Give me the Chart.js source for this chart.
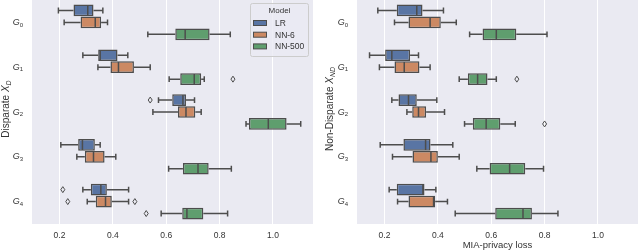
<!DOCTYPE html>
<html>
<head>
<meta charset="utf-8">
<script src="https://cdn.jsdelivr.net/npm/chart.js@4.4.1/dist/chart.umd.min.js"></script>
<style>
  html, body { margin: 0; padding: 0; background: #fff; }
  .panel { position: absolute; top: 0; width: 320px; height: 252px; }
  #left { left: 0; }
  #right { left: 320px; }
</style>
</head>
<body>
<div class="panel" id="left"><canvas id="chartLeft"></canvas></div>
<div class="panel" id="right"><canvas id="chartRight"></canvas></div>
<script>
var groups = ["0", "1", "2", "3", "4"];
var models = ["LR", "NN-6", "NN-500"];
var colors = ["#5975a4", "#cc8963", "#5f9e6e"];
var xTicks = [0.2, 0.4, 0.6, 0.8, 1.0];

// [whisker low, q1, median, q3, whisker high] per group
var dispLR = [
  [0.196, 0.2525, 0.306, 0.3275, 0.3625],
  [0.2875, 0.345, 0.3525, 0.4175, 0.456],
  [0.571, 0.6225, 0.6625, 0.674, 0.706],
  [0.205, 0.27, 0.286, 0.3325, 0.3525],
  [0.2875, 0.3175, 0.355, 0.3775, 0.459]
];
var dispNN6 = [
  [0.2175, 0.279, 0.334, 0.356, 0.38],
  [0.344, 0.391, 0.421, 0.479, 0.54],
  [0.55, 0.644, 0.674, 0.709, 0.731],
  [0.265, 0.295, 0.3275, 0.369, 0.411],
  [0.304, 0.336, 0.3725, 0.396, 0.459]
];
var dispNN500 = [
  [0.531, 0.634, 0.671, 0.7625, 0.84],
  [0.611, 0.6525, 0.705, 0.731, 0.7425],
  [0.899, 0.91, 0.9825, 1.051, 1.104],
  [0.609, 0.6625, 0.719, 0.759, 0.844],
  [0.581, 0.66, 0.6775, 0.739, 0.83]
];
var dispOutLR = [[], [], [0.54], [], [0.2125]];
var dispOutNN6 = [[], [], [], [], [0.231, 0.4825]];
var dispOutNN500 = [[], [0.85], [], [], [0.525]];

var nonLR = [
  [0.175, 0.246, 0.321, 0.3425, 0.421],
  [0.144, 0.2025, 0.2275, 0.296, 0.3275],
  [0.2275, 0.2525, 0.29, 0.321, 0.396],
  [0.184, 0.271, 0.354, 0.3725, 0.456],
  [0.2175, 0.246, 0.344, 0.35, 0.3925]
];
var nonNN6 = [
  [0.2375, 0.29, 0.371, 0.411, 0.469],
  [0.181, 0.2375, 0.274, 0.331, 0.371],
  [0.284, 0.304, 0.3275, 0.356, 0.425],
  [0.23, 0.305, 0.374, 0.4, 0.48],
  [0.249, 0.29, 0.384, 0.39, 0.436]
];
var nonNN500 = [
  [0.519, 0.5675, 0.619, 0.694, 0.809],
  [0.48, 0.5125, 0.549, 0.586, 0.619],
  [0.5, 0.531, 0.581, 0.634, 0.69],
  [0.546, 0.594, 0.669, 0.7275, 0.796],
  [0.465, 0.615, 0.719, 0.7525, 0.85]
];
var nonOutLR = [[], [], [], [], []];
var nonOutNN6 = [[], [], [], [], []];
var nonOutNN500 = [[], [0.696], [0.8], [], []];

var FONT = "'Liberation Sans', Arial, sans-serif";
var EDGE = "#4d4d4d";

var makeDataset = function(i, stats, outliers) {
  return {
    label: models[i],
    data: stats.map(function(s) { return [s[1], s[3]]; }),
    stats: stats,
    outliers: outliers,
    backgroundColor: colors[i],
    borderColor: EDGE,
    borderWidth: 1.5,
    borderSkipped: false,
    categoryPercentage: 0.8,
    barPercentage: 0.98
  };
};

// draws the text parts [text, italic, sub] one after another
var drawParts = function(ctx, parts, size, x, y) {
  var widths = parts.map(function(p) {
    ctx.font = (p[1] ? "italic " : "") + (p[2] ? size * 0.7 : size) + "px " + FONT;
    return ctx.measureText(p[0]).width;
  });
  var total = widths.reduce(function(a, b) { return a + b; }, 0);
  var cx = x - total / 2;
  parts.forEach(function(p, k) {
    ctx.font = (p[1] ? "italic " : "") + (p[2] ? size * 0.7 : size) + "px " + FONT;
    ctx.fillText(p[0], cx, y + (p[2] ? size * 0.3 : 0));
    cx += widths[k];
  });
};

var boxPlugin = {
  id: "boxes",
  beforeDraw: function(chart) {
    var a = chart.chartArea, ctx = chart.ctx;
    ctx.save();
    ctx.fillStyle = "#eaeaf2";
    ctx.fillRect(a.left, a.top, a.right - a.left, a.bottom - a.top);
    ctx.restore();
  },
  afterDatasetsDraw: function(chart) {
    var ctx = chart.ctx, xs = chart.scales.x, ys = chart.scales.y, a = chart.chartArea;
    var opts = chart.options.plugins.boxes;
    ctx.save();
    ctx.strokeStyle = EDGE;
    ctx.lineWidth = 1.5;
    chart.data.datasets.forEach(function(ds, di) {
      var meta = chart.getDatasetMeta(di);
      meta.data.forEach(function(bar, i) {
        var s = ds.stats[i];
        var p = bar.getProps(["y", "height"], true);
        var y = p.y, h = p.height;
        ctx.beginPath();
        ctx.moveTo(xs.getPixelForValue(s[0]), y);
        ctx.lineTo(xs.getPixelForValue(s[1]), y);
        ctx.moveTo(xs.getPixelForValue(s[3]), y);
        ctx.lineTo(xs.getPixelForValue(s[4]), y);
        [s[0], s[4]].forEach(function(v) {
          ctx.moveTo(xs.getPixelForValue(v), y - h / 4);
          ctx.lineTo(xs.getPixelForValue(v), y + h / 4);
        });
        ctx.moveTo(xs.getPixelForValue(s[2]), y - h / 2 + 0.75);
        ctx.lineTo(xs.getPixelForValue(s[2]), y + h / 2 - 0.75);
        ctx.stroke();
        ds.outliers[i].forEach(function(v) {
          var ox = xs.getPixelForValue(v);
          ctx.beginPath();
          ctx.moveTo(ox, y - 3);
          ctx.lineTo(ox + 2, y);
          ctx.lineTo(ox, y + 3);
          ctx.lineTo(ox - 2, y);
          ctx.closePath();
          ctx.lineWidth = 1;
          ctx.stroke();
          ctx.lineWidth = 1.5;
        });
      });
    });
    ctx.restore();

    // group labels G_i
    ctx.save();
    ctx.fillStyle = "#333";
    ctx.textBaseline = "middle";
    groups.forEach(function(g, i) {
      var ty = ys.getPixelForTick(i);
      var right = a.left - 9;
      ctx.font = "6px " + FONT;
      var sw = ctx.measureText(g).width;
      ctx.textAlign = "left";
      ctx.fillText(g, right - sw, ty + 2.5);
      ctx.font = "italic 9px " + FONT;
      ctx.textAlign = "right";
      ctx.fillText("G", right - sw, ty);
    });
    ctx.restore();

    // axis titles
    ctx.save();
    ctx.fillStyle = "#333";
    ctx.textBaseline = "middle";
    ctx.textAlign = "left";
    ctx.translate(opts.yTitleX, 109);
    ctx.rotate(-Math.PI / 2);
    drawParts(ctx, opts.yTitle, 10, 0, 0);
    ctx.restore();
    if (opts.xTitle) {
      ctx.save();
      ctx.fillStyle = "#333";
      ctx.textBaseline = "middle";
      ctx.textAlign = "center";
      ctx.font = "9.5px " + FONT;
      ctx.fillText(opts.xTitle, (a.left + a.right) / 2, 245);
      ctx.restore();
    }

    // legend
    if (opts.legend) {
      ctx.save();
      ctx.fillStyle = "rgba(234,234,242,0.8)";
      ctx.strokeStyle = "#cccccc";
      ctx.lineWidth = 1;
      ctx.beginPath();
      ctx.roundRect(250.5, 3.5, 58, 53, 2);
      ctx.fill();
      ctx.stroke();
      ctx.fillStyle = "#333";
      ctx.textBaseline = "middle";
      ctx.textAlign = "center";
      ctx.font = "8px " + FONT;
      ctx.fillText("Model", 279.5, 11);
      ctx.textAlign = "left";
      ctx.font = "8.5px " + FONT;
      models.forEach(function(m, k) {
        var ly = 23 + k * 11.7;
        ctx.fillStyle = colors[k];
        ctx.fillRect(253.5, ly - 2.5, 13, 5);
        ctx.strokeStyle = EDGE;
        ctx.lineWidth = 1;
        ctx.strokeRect(253.5, ly - 2.5, 13, 5);
        ctx.fillStyle = "#333";
        ctx.fillText(m, 275, ly + 0.5);
      });
      ctx.restore();
    }
  }
};

var createPanel = function(canvasId, sets, axisWidth, padRight, extra) {
  var ctx = document.getElementById(canvasId);
  return new Chart(ctx, {
    type: "bar",
    data: {
      labels: groups,
      datasets: sets
    },
    options: {
      indexAxis: "y",
      responsive: true,
      maintainAspectRatio: false,
      animation: false,
      layout: { padding: { top: 0, right: padRight, left: 0, bottom: 0 } },
      scales: {
        x: {
          type: "linear",
          min: 0.097,
          max: 1.15,
          afterBuildTicks: function(s) {
            s.ticks = xTicks.map(function(v) { return { value: v }; });
          },
          afterFit: function(s) { s.height = 28; },
          grid: { color: "#ffffff", lineWidth: 1, drawTicks: false },
          border: { display: false },
          ticks: {
            padding: 7,
            color: "#333",
            font: { family: FONT, size: 8.5 },
            callback: function(v) { return v.toFixed(1); }
          }
        },
        y: {
          afterFit: function(s) { s.width = axisWidth; },
          grid: { display: false, drawTicks: false },
          border: { display: false },
          ticks: { display: false }
        }
      },
      plugins: {
        legend: { display: false },
        tooltip: { enabled: false },
        boxes: extra
      }
    },
    plugins: [boxPlugin]
  });
};

createPanel("chartLeft", [
  makeDataset(0, dispLR, dispOutLR),
  makeDataset(1, dispNN6, dispOutNN6),
  makeDataset(2, dispNN500, dispOutNN500)
], 32, 7, {
  legend: true,
  yTitleX: 6,
  yTitle: [["Disparate ", false, false], ["X", true, false], ["D", true, true]]
});

createPanel("chartRight", [
  makeDataset(0, nonLR, nonOutLR),
  makeDataset(1, nonNN6, nonOutNN6),
  makeDataset(2, nonNN500, nonOutNN500)
], 37, 2, {
  legend: false,
  yTitleX: 10,
  xTitle: "MIA-privacy loss",
  yTitle: [["Non-Disparate ", false, false], ["X", true, false], ["ND", true, true]]
});
</script>
</body>
</html>
